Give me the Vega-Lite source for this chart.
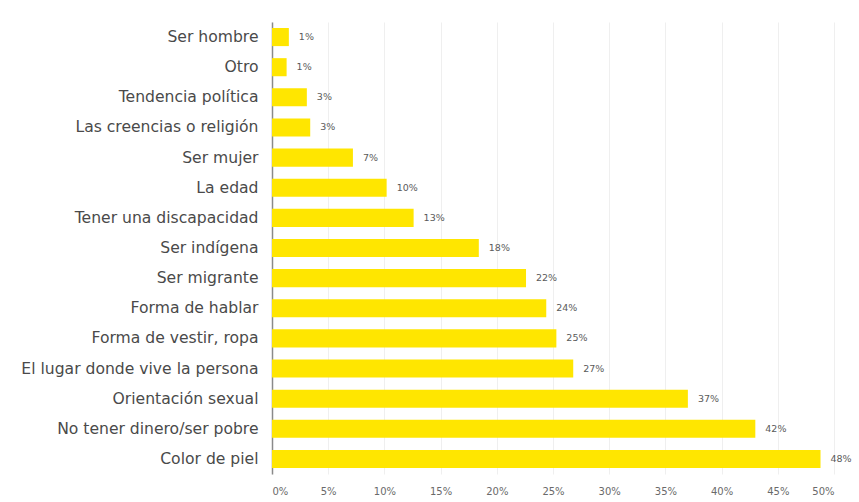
{
  "$schema": "https://vega.github.io/schema/vega-lite/v6.json",
  "autosize": {"type": "none"},
  "width": 562,
  "height": 452,
  "padding": {"left": 272, "top": 22, "right": 25, "bottom": 28},
  "background": "white",
  "config": {"view": {"stroke": null}, "font": "DejaVu Sans"},
  "data": {
    "values": [
      {"motivo": "Ser hombre", "pct": 1.5, "label": "1%"},
      {"motivo": "Otro", "pct": 1.3, "label": "1%"},
      {"motivo": "Tendencia política", "pct": 3.1, "label": "3%"},
      {"motivo": "Las creencias o religión", "pct": 3.4, "label": "3%"},
      {"motivo": "Ser mujer", "pct": 7.2, "label": "7%"},
      {"motivo": "La edad", "pct": 10.2, "label": "10%"},
      {"motivo": "Tener una discapacidad", "pct": 12.6, "label": "13%"},
      {"motivo": "Ser indígena", "pct": 18.4, "label": "18%"},
      {"motivo": "Ser migrante", "pct": 22.6, "label": "22%"},
      {"motivo": "Forma de hablar", "pct": 24.4, "label": "24%"},
      {"motivo": "Forma de vestir, ropa", "pct": 25.3, "label": "25%"},
      {"motivo": "El lugar donde vive la persona", "pct": 26.8, "label": "27%"},
      {"motivo": "Orientación sexual", "pct": 37.0, "label": "37%"},
      {"motivo": "No tener dinero/ser pobre", "pct": 43.0, "label": "42%"},
      {"motivo": "Color de piel", "pct": 48.8, "label": "48%"}
    ]
  },
  "encoding": {
    "y": {
      "field": "motivo",
      "type": "nominal",
      "sort": null,
      "scale": {"paddingInner": 0.4, "paddingOuter": 0.2},
      "axis": {
        "title": null,
        "ticks": false,
        "domain": true,
        "domainColor": "#8a8a8a",
        "domainWidth": 1.5,
        "labelFontSize": 15.6,
        "labelColor": "#4a4a4a",
        "labelPadding": 14,
        "labelLimit": 300
      }
    },
    "x": {
      "field": "pct",
      "type": "quantitative",
      "scale": {"domain": [0, 50], "nice": false},
      "axis": {
        "title": null,
        "values": [0, 5, 10, 15, 20, 25, 30, 35, 40, 45, 50],
        "labelExpr": "datum.value + '%'",
        "ticks": false,
        "domain": false,
        "grid": true,
        "gridColor": "#efefef",
        "gridWidth": 1,
        "labelFontSize": 10,
        "labelColor": "#6a6a6a",
        "labelPadding": 12
      }
    }
  },
  "layer": [
    {"mark": {"type": "bar", "color": "#FFE600"}},
    {
      "mark": {"type": "text", "align": "left", "dx": 10, "fontSize": 9.5, "color": "#5a5a5a"},
      "encoding": {"text": {"field": "label"}}
    }
  ]
}
